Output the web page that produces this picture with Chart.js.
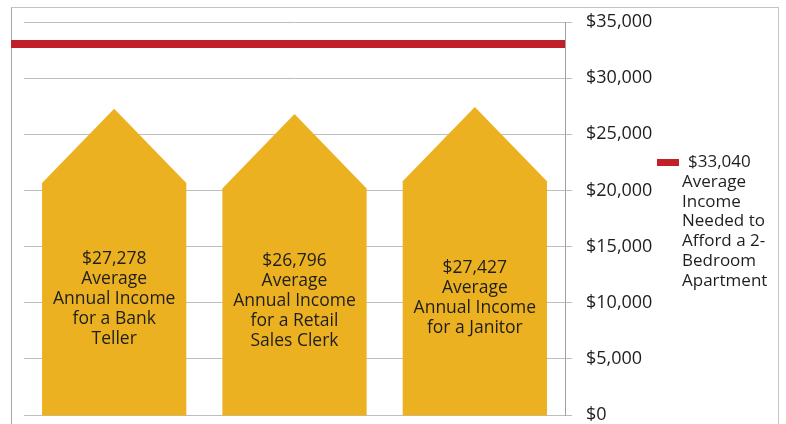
<!DOCTYPE html>
<html>
<head>
<meta charset="utf-8">
<script src="https://cdn.jsdelivr.net/npm/chart.js@4"></script>
<style>
  html, body { margin: 0; padding: 0; background: #fff; }
  #wrap { position: relative; width: 786px; height: 424px; overflow: hidden; }
  #legend {
    position: absolute; left: 657px; top: 151px; width: 125px;
    font-family: "Open Sans", sans-serif; font-size: 17px; line-height: 19.8px; color: #1e1e1e;
  }
  #legend .swatch { position: absolute; left: 0; top: 8px; width: 22px; height: 7px; background: #C0202A; }
  #legend .text { position: absolute; left: 25px; top: 0; white-space: nowrap; }
</style>
</head>
<body>
<div id="wrap">
  <canvas id="chart" width="786" height="424"></canvas>
  <div id="legend">
    <div class="swatch"></div>
    <div class="text" id="legendText"></div>
  </div>
</div>
<script>
const categories = ['Bank Teller', 'Retail Sales Clerk', 'Janitor'];
const incomes = [27278, 26796, 27427];
const barLabels = [
    ['$27,278', 'Average', 'Annual Income', 'for a Bank', 'Teller'],
    ['$26,796', 'Average', 'Annual Income', 'for a Retail', 'Sales Clerk'],
    ['$27,427', 'Average', 'Annual Income', 'for a Janitor']
];
const requiredIncome = 33040;
const legendLines = ['$33,040', 'Average', 'Income', 'Needed to', 'Afford a 2-', 'Bedroom', 'Apartment'];
const yTicks = [0, 5000, 10000, 15000, 20000, 25000, 30000, 35000];

const FONT = '"Open Sans", sans-serif';
const GOLD = '#ECB120';
const RED = '#C0202A';

// legend text, first line sits a bit further right like the original
document.getElementById('legendText').innerHTML = legendLines
    .map((l, i) => `<div style="padding-left:${i === 0 ? 6 : 0}px">${l}</div>`).join('');

// frame, red target line, house shaped bars and their labels
const housePlugin = {
    id: 'houses',
    beforeDraw(chart) {
        const ctx = chart.ctx;
        ctx.save();
        ctx.strokeStyle = '#c4c4c4';
        ctx.lineWidth = 1;
        ctx.strokeRect(11.5, 7.5, 767, 430);
        ctx.strokeStyle = '#a8a8a8';
        ctx.beginPath();
        ctx.moveTo(11.5, 7.5);
        ctx.lineTo(11.5, 424);
        ctx.stroke();
        ctx.restore();
    },
    afterDatasetsDraw(chart) {
        const ctx = chart.ctx;
        const y = chart.scales.y;
        const meta = chart.getDatasetMeta(0);
        ctx.save();
        meta.data.forEach((bar, i) => {
            const half = bar.width / 2;
            const roof = half * 1.03;
            const left = bar.x - half, right = bar.x + half;
            const eave = bar.y + roof;
            ctx.fillStyle = GOLD;
            ctx.beginPath();
            ctx.moveTo(left, bar.base + 1);
            ctx.lineTo(left, eave);
            ctx.lineTo(bar.x, bar.y);
            ctx.lineTo(right, eave);
            ctx.lineTo(right, bar.base + 1);
            ctx.closePath();
            ctx.fill();

            const lines = barLabels[i];
            const lh = 20;
            const mid = (eave + bar.base) / 2;
            ctx.fillStyle = '#1e1e1e';
            ctx.font = '17.5px ' + FONT;
            ctx.textAlign = 'center';
            ctx.textBaseline = 'middle';
            lines.forEach((t, k) => {
                ctx.fillText(t, bar.x, mid + (k - (lines.length - 1) / 2) * lh);
            });
        });

        const ly = y.getPixelForValue(requiredIncome);
        ctx.fillStyle = RED;
        ctx.fillRect(11, ly - 4, chart.chartArea.right - 11, 8);
        ctx.restore();
    }
};

new Chart(document.getElementById('chart'), {
    type: 'bar',
    data: {
        labels: categories,
        datasets: [{
            label: 'Average Annual Income',
            data: incomes,
            backgroundColor: 'rgba(0,0,0,0)',
            barPercentage: 0.8,
            categoryPercentage: 1.0
        }]
    },
    options: {
        responsive: false,
        animation: false,
        layout: { padding: { left: 24, top: 22, right: 0, bottom: 9 } },
        plugins: { legend: { display: false }, tooltip: { enabled: false } },
        scales: {
            x: { display: false },
            y: {
                position: 'right',
                min: 0,
                max: 35000,
                afterFit: s => { s.width = 786 - 565; s.paddingTop = 0; s.paddingBottom = 0; },
                afterBuildTicks: s => { s.ticks = yTicks.map(v => ({ value: v })); },
                border: { display: true, color: '#a0a0a0', width: 1 },
                grid: { color: '#bdbdbd', tickLength: 7, drawTicks: true },
                ticks: {
                    padding: 14,
                    color: '#1e1e1e',
                    font: { family: FONT, size: 18 },
                    callback: v => '$' + v.toLocaleString('en-US')
                }
            }
        }
    },
    plugins: [housePlugin]
});
</script>
</body>
</html>
